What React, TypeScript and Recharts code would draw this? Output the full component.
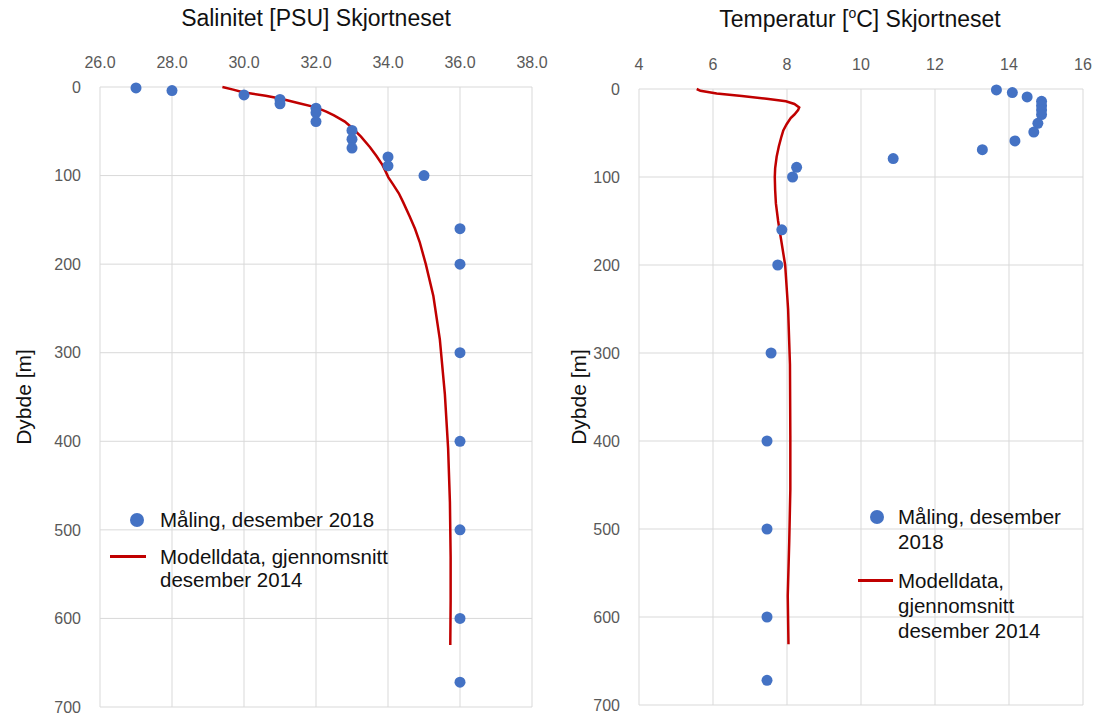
import React from 'react';
import { ScatterChart, Scatter, XAxis, YAxis, CartesianGrid, Legend } from 'recharts';

// målte verdier (CTD, desember 2018)
const depthMeasured = [1, 4, 9, 14, 19, 24, 29, 39, 49, 59, 69, 79, 89, 100, 160, 200, 300, 400, 500, 600, 672];
const salinityMeasured = [27.0, 28.0, 30.0, 31.0, 31.0, 32.0, 32.0, 32.0, 33.0, 33.0, 33.0, 34.0, 34.0, 35.0, 36.0, 36.0, 36.0, 36.0, 36.0, 36.0, 36.0];
const temperatureMeasured = [13.66, 14.09, 14.49, 14.88, 14.88, 14.88, 14.88, 14.78, 14.67, 14.16, 13.28, 10.87, 8.26, 8.15, 7.86, 7.75, 7.57, 7.46, 7.46, 7.46, 7.46];

// modelldata, snitt desember 2014
const salinityModelDepth = [0, 3, 6, 10, 13, 18, 23, 28, 32, 39, 46, 56, 68, 78, 87, 95, 102, 110, 120, 130, 146, 160, 175, 200, 236, 285, 347, 408, 469, 531, 580, 630];
const salinityModel = [29.4, 29.7, 29.97, 30.6, 31.0, 31.5, 32.0, 32.3, 32.5, 32.8, 33.0, 33.25, 33.5, 33.68, 33.83, 33.93, 34.01, 34.14, 34.3, 34.42, 34.6, 34.75, 34.88, 35.05, 35.26, 35.44, 35.58, 35.67, 35.72, 35.74, 35.74, 35.73];
const temperatureModelDepth = [0, 2, 5, 8, 11, 14, 17, 21, 24, 29, 33, 40, 47, 54, 65, 77, 90, 100, 115, 130, 150, 171, 200, 250, 313, 394, 455, 515, 576, 631];
const temperatureModel = [5.56, 5.66, 6.1, 6.78, 7.45, 7.97, 8.2, 8.33, 8.3, 8.2, 8.1, 7.99, 7.9, 7.85, 7.78, 7.72, 7.68, 7.67, 7.68, 7.7, 7.76, 7.84, 7.95, 8.03, 8.08, 8.09, 8.09, 8.06, 8.02, 8.04];

const salinityTicks = [26, 28, 30, 32, 34, 36, 38];
const temperatureTicks = [4, 6, 8, 10, 12, 14, 16];
const depthTicks = [0, 100, 200, 300, 400, 500, 600, 700];

const FONT = '"Liberation Sans", Arial, sans-serif';
const BLUE = '#4472C4';
const RED = '#C00000';
const TEXT = '#111';
const tickStyle = { fontSize: 16, fill: '#595959', fontFamily: FONT };

const pairs = (xs: number[], ys: number[]) => xs.map((x, i) => ({ x, y: ys[i] }));

const noShape = () => <g />;

const LegendBox = ({ lineHeight, col, dotX, lineX, lineW, first, second }: any) => (
  <div style={{ fontFamily: FONT, fontSize: 20.5, color: TEXT, lineHeight: `${lineHeight}px`, whiteSpace: 'nowrap' }}>
    <div style={{ display: 'flex' }}>
      <div style={{ width: col, position: 'relative', flexShrink: 0 }}>
        <span style={{ position: 'absolute', left: dotX - 7, top: lineHeight / 2 - 7, width: 14, height: 14, borderRadius: 7, background: BLUE }} />
      </div>
      <div>{first.map((t: string) => <div key={t}>{t}</div>)}</div>
    </div>
    <div style={{ display: 'flex', marginTop: 14 }}>
      <div style={{ width: col, position: 'relative', flexShrink: 0 }}>
        <span style={{ position: 'absolute', left: lineX, top: lineHeight / 2 - 1.5, width: lineW, height: 3, background: RED }} />
      </div>
      <div>{second.map((t: string) => <div key={t}>{t}</div>)}</div>
    </div>
  </div>
);

const DepthChart = ({ width, margin, yWidth, xTicks, xDomain, fmt, measured, model, legend, legendPos }: any) => (
  <ScatterChart width={width} height={715} margin={margin} style={{ fontFamily: FONT }}>
    <CartesianGrid stroke="#D9D9D9" strokeWidth={1} />
    <XAxis
      type="number"
      dataKey="x"
      orientation="top"
      height={30}
      domain={xDomain}
      ticks={xTicks}
      tickFormatter={fmt}
      axisLine={false}
      tickLine={false}
      tickMargin={13}
      tick={tickStyle}
      interval={0}
    />
    <YAxis
      type="number"
      dataKey="y"
      width={yWidth}
      domain={[0, 700]}
      ticks={depthTicks}
      reversed
      axisLine={false}
      tickLine={false}
      tickMargin={13}
      tick={tickStyle}
      interval={0}
      label={{ value: 'Dybde [m]', angle: -90, position: 'insideLeft', offset: 24, style: { textAnchor: 'middle', fontSize: 21, fill: TEXT, fontFamily: FONT } }}
    />
    <Scatter name="Modell" data={model} line={{ stroke: RED, strokeWidth: 2.5 }} lineType="joint" shape={noShape} isAnimationActive={false} />
    <Scatter name="Måling" data={measured} fill={BLUE} isAnimationActive={false}
      shape={(p: any) => <circle cx={p.cx} cy={p.cy} r={5.5} fill={BLUE} />} />
    <Legend layout="vertical" align="center" verticalAlign="middle" wrapperStyle={{ ...legendPos }} content={() => legend} />
  </ScatterChart>
);

export default function App() {
  return (
    <div style={{ position: 'absolute', left: 0, top: 0, width: 1109, height: 715, background: '#fff', fontFamily: FONT }}>
      <div style={{ position: 'absolute', left: 116, width: 400, top: 5, textAlign: 'center', fontSize: 23, color: TEXT }}>
        Salinitet [PSU] Skjortneset
      </div>
      <div style={{ position: 'absolute', left: 660, width: 400, top: 5, textAlign: 'center', fontSize: 23, color: TEXT }}>
        Temperatur [<sup style={{ fontSize: 14 }}>o</sup>C] Skjortneset
      </div>
      <div style={{ position: 'absolute', left: 0, top: 0 }}>
        <DepthChart
          width={560}
          margin={{ top: 57, right: 28, bottom: 8, left: 0 }}
          yWidth={100}
          xTicks={salinityTicks}
          xDomain={[26, 38]}
          fmt={(v: number) => v.toFixed(1)}
          measured={pairs(salinityMeasured, depthMeasured)}
          model={pairs(salinityModel, salinityModelDepth)}
          legendPos={{ left: 100, top: 508, width: 330 }}
          legend={<LegendBox lineHeight={23} col={60} dotX={37} lineX={10} lineW={36}
            first={['Måling, desember 2018']} second={['Modelldata, gjennomsnitt', 'desember 2014']} />}
        />
      </div>
      <div style={{ position: 'absolute', left: 555, top: 0 }}>
        <DepthChart
          width={554}
          margin={{ top: 59, right: 26, bottom: 10, left: 0 }}
          yWidth={84}
          xTicks={temperatureTicks}
          xDomain={[4, 16]}
          fmt={(v: number) => String(v)}
          measured={pairs(temperatureMeasured, depthMeasured)}
          model={pairs(temperatureModel, temperatureModelDepth)}
          legendPos={{ left: 300, top: 504, width: 240 }}
          legend={<LegendBox lineHeight={25} col={43} dotX={22} lineX={3} lineW={35}
            first={['Måling, desember', '2018']} second={['Modelldata,', 'gjennomsnitt', 'desember 2014']} />}
        />
      </div>
    </div>
  );
}
